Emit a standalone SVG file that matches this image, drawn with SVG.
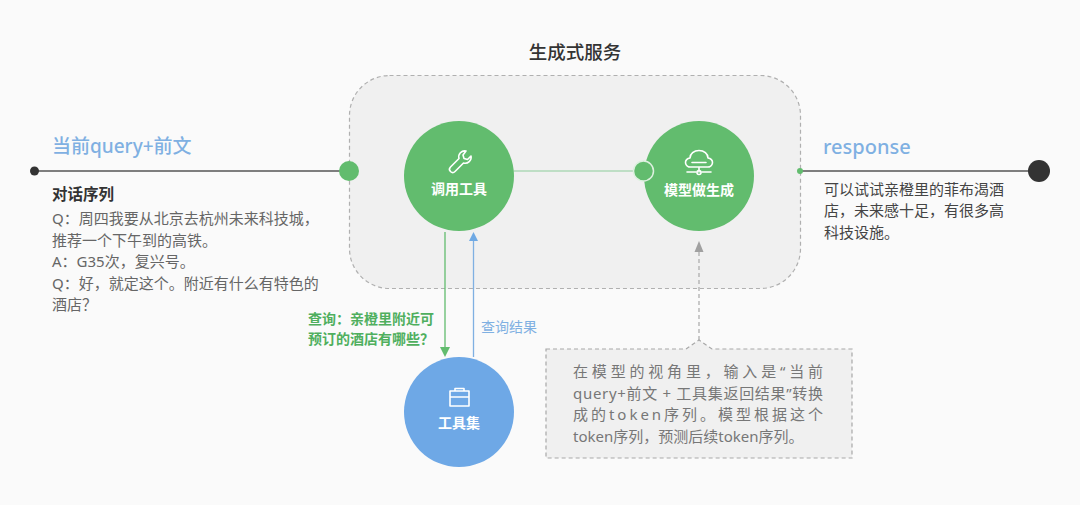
<svg xmlns="http://www.w3.org/2000/svg" width="1080" height="505" viewBox="0 0 1080 505">
<style>
text{font-family:"Noto Sans","Noto Sans CJK SC",sans-serif}
.h{fill:#7FB0E2;font-weight:500}
.b{font-size:15px;fill:#666}
.d{font-size:15px;fill:#444}
.n{font-size:14px;fill:#fff;font-weight:700;text-anchor:middle}
.g{font-size:14px;fill:#4FAF5E;font-weight:700}
.ic{fill:none;stroke:#fff;stroke-width:1.600;stroke-linecap:round;stroke-linejoin:round}
.t{font-size:15px;fill:#777}
</style>
<rect width="1080" height="505" fill="#FAFAFA"/>
<g id="panel">
<rect x="349.500" y="75.500" width="451" height="213" rx="40" fill="#F0F0F0" stroke="#B0B0B0" stroke-width="1.200" stroke-dasharray="4 3"/>
<text x="575" y="59" font-size="18.500" font-weight="500" fill="#333" text-anchor="middle">生成式服务</text>
</g>
<g id="connectors" fill="none">
<path d="M35 171H349" stroke="#555" stroke-width="1.500"/>
<path d="M800 171H1039" stroke="#555" stroke-width="1.500"/>
<path d="M514 171H643" stroke="#8CCB9A" stroke-width="1.200"/>
<path d="M445 232V348" stroke="#62BC6E" stroke-width="1.300"/>
<path d="M440 347H450L445 357Z" fill="#62BC6E"/>
<path d="M473.500 357V240" stroke="#7FB0E2" stroke-width="1.300"/>
<path d="M469 241H478L473.500 232Z" fill="#6FA9E4"/>
<path d="M699 340V250" stroke="#A8A8A8" stroke-width="1.200" stroke-dasharray="4 3"/>
<path d="M694.500 252H703.500L699 241Z" fill="#A0A0A0"/>
</g>
<g id="start-dot"><circle cx="34.500" cy="171" r="4.500" fill="#333"/></g>
<g id="in-port"><circle cx="349" cy="171" r="10" fill="#62BC6E"/></g>
<g id="out-port"><circle cx="800" cy="171" r="3" fill="#62BC6E"/></g>
<g id="end-dot"><circle cx="1039" cy="171" r="11" fill="#333"/></g>
<g id="query-label">
<text class="h" font-size="19" x="52" y="153">当前query+前文</text>
<text x="52" y="200" font-size="15.500" font-weight="700" fill="#333">对话序列</text>
<text class="b" x="52" y="224">Q：周四我要从北京去杭州未来科技城，</text>
<text class="b" x="52" y="246">推荐一个下午到的高铁。</text>
<text class="b" x="52" y="267">A：G35次，复兴号。</text>
<text class="b" x="52" y="289">Q：好，就定这个。附近有什么有特色的</text>
<text class="b" x="52" y="310">酒店？</text>
</g>
<g id="response-label">
<text class="h" font-size="20" x="823" y="154">response</text>
<text class="d" x="824" y="195">可以试试亲橙里的菲布渴酒</text>
<text class="d" x="824" y="216">店，未来感十足，有很多高</text>
<text class="d" x="824" y="238">科技设施。</text>
</g>
<g id="call-tool">
<circle cx="459" cy="176" r="55" fill="#62BC6E"/>
<path class="ic" d="M466 151a6 6 0 0 0-7 7.500l-8.500 8.500a3 3 0 0 0 4.500 4.500l8.500-8.500a6 6 0 0 0 7.500-7l-3.500 3.500-3.500-1-1-3.500z"/>
<text class="n" x="459" y="194">调用工具</text>
</g>
<g id="model-gen">
<circle cx="699" cy="176" r="55" fill="#62BC6E"/>
<path class="ic" d="M691 167a5 4.500 0 0 1-1-9 9 7.500 0 0 1 18 0 5 4.500 0 0 1-1 9zM692 162.500h14M699 167v5M687 172h9M702 172h9"/>
<circle cx="699" cy="172.500" r="2" class="ic"/>
<text class="n" x="699" y="195">模型做生成</text>
</g>
<g id="inner-port"><circle cx="643.500" cy="171" r="10" fill="#62BC6E" stroke="#DDF0DF" stroke-width="1.500"/></g>
<g id="toolset">
<circle cx="459" cy="412" r="55" fill="#6EA8E6"/>
<path class="ic" d="M450 391h19v15h-19zM455 391v-2.500h9v2.500M450 397h19"/>
<text class="n" x="459" y="428">工具集</text>
</g>
<g id="edge-labels">
<text class="g" x="308" y="324">查询：亲橙里附近可</text>
<text class="g" x="308" y="344">预订的酒店有哪些？</text>
<text x="481" y="332" font-size="14" fill="#7FB0E2">查询结果</text>
</g>
<g id="note">
<path d="M546 349H686L699 340L712 349H852V458H546Z" fill="#F0F0F0" stroke="#A8A8A8" stroke-width="1.200" stroke-dasharray="4 3"/>
<text class="t" x="573" y="377" textLength="250">在模型的视角里，输入是“当前</text>
<text class="t" x="573" y="399" textLength="250">query+前文 + 工具集返回结果”转换</text>
<text class="t" x="573" y="420" textLength="250">成的token序列。模型根据这个</text>
<text class="t" x="573" y="442">token序列，预测后续token序列。</text>
</g>
</svg>
